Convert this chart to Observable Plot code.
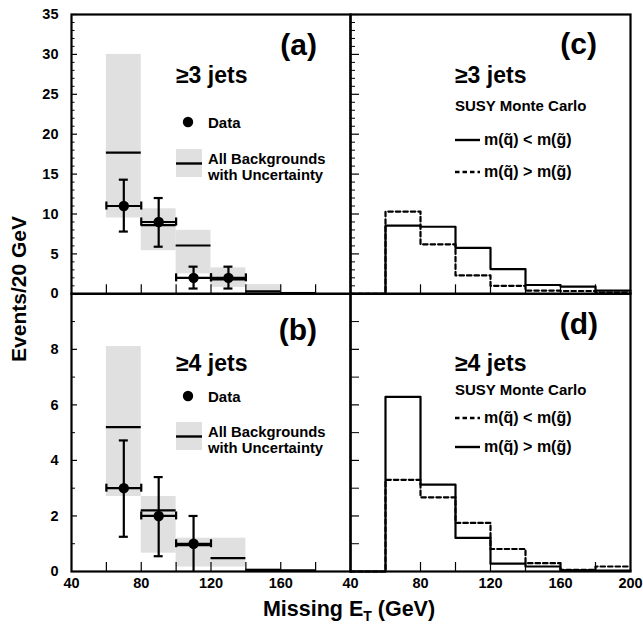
<!DOCTYPE html>
<html><head><meta charset="utf-8">
<script src="https://cdn.jsdelivr.net/npm/d3@7"></script>
<script src="https://cdn.jsdelivr.net/npm/@observablehq/plot@0.6"></script>
<style>
body{margin:0;background:#fff;}
#wrap{position:relative;width:643px;height:630px;font-family:"Liberation Sans",Arial,Helvetica,sans-serif;font-weight:bold;background:#fff;}
#wrap svg{position:absolute;overflow:visible;background:transparent;max-width:none;}
</style></head><body><div id="wrap"></div><script>
// ---------- data ----------
const binLow  = [60, 80, 100, 120, 140, 160];
const binHigh = [80, 100, 120, 140, 160, 180];
// panel (a): >=3 jets, all backgrounds with uncertainty
const bgA     = [17.7, 8.6, 6.05, 1.8, 0.3, 0.1];
const bgALow  = [9.5, 5.4, 2.5, 0.8, 0, 0];
const bgAHigh = [30, 10.65, 7.95, 3.25, 1.15, 0.2];
// panel (a): data
const dataAx    = [70, 90, 110, 130];
const dataAxLo  = [60, 80, 100, 120];
const dataAxHi  = [80, 100, 120, 140];
const dataA     = [11, 9, 2, 2];
const dataALow  = [7.8, 5.9, 0.66, 0.66];
const dataAHigh = [14.3, 12, 3.4, 3.4];
// panel (b): >=4 jets
const bgB     = [5.2, 2.2, 0.95, 0.48, 0.06, 0.04];
const bgBLow  = [2.7, 0.66, 0.16, 0.16, 0, 0];
const bgBHigh = [8.1, 2.7, 1.2, 1.2, 0.1, 0.06];
const dataBx    = [70, 90, 110];
const dataBxLo  = [60, 80, 100];
const dataBxHi  = [80, 100, 120];
const dataB     = [3, 2, 1];
const dataBLow  = [1.25, 0.55, 0];
const dataBHigh = [4.72, 3.4, 2.0];
// SUSY Monte Carlo histograms (bin edges 40..200)
const mcEdges = [40, 60, 80, 100, 120, 140, 160, 180, 200];
const mcC_lt = [0, 8.55, 8.4, 5.75, 3.1, 1.1, 0.9, 0.4];    // solid, m(q)<m(g)
const mcC_gt = [0, 10.3, 6.2, 2.3, 1.0, 0.4, 0.35, 0.15];   // dashed, m(q)>m(g)
const mcD_lt = [0, 3.3, 2.67, 1.75, 0.81, 0.3, 0.06, 0.18]; // dashed, m(q)<m(g)
const mcD_gt = [0, 6.29, 3.13, 1.21, 0.28, 0.18, 0.04, 0.03]; // solid, m(q)>m(g)
// ticks and labels
const yLabelsTop = [0, 5, 10, 15, 20, 25, 30, 35];
const yLabelsBottom = [0, 2, 4, 6, 8];
const yMinorTop = d3.range(0, 36).filter(v => v % 5 !== 0);
const yMinorBottom = [1, 3, 5, 7, 9];
const yMajorBottom = [2, 4, 6, 8];
const xTicks = [60, 80, 100, 120, 140, 160, 180];
const xLabelsLeft = [40, 80, 120, 160];
const xLabelsRight = [40, 80, 120, 160, 200];
const panelLetters = ["(a)", "(b)", "(c)", "(d)"];
const jetLabels = ["\u22653 jets", "\u22654 jets"];
const legendData = "Data";
const legendBg = ["All Backgrounds", "with Uncertainty"];
const legendMC = "SUSY Monte Carlo";
const legendLt = "m(q\u0303) < m(g\u0303)";
const legendGt = "m(q\u0303) > m(g\u0303)";
const xTitle = ["Missing E", "T", " (GeV)"];
const yTitle = "Events/20 GeV";

// ---------- helpers ----------
const FONT = '"Liberation Sans", Arial, Helvetica, sans-serif';
const GREY = "#e0e0e0";
const wrap = document.getElementById("wrap");

function bgMarks(v, lo, hi) {
  const bins = binLow.map((b, i) => ({x1: b, x2: binHigh[i], v: v[i], lo: lo[i], hi: hi[i]}));
  return [
    Plot.rect(bins, {x1: "x1", x2: "x2", y1: "lo", y2: "hi", fill: GREY}),
    Plot.ruleY(bins, {y: "v", x1: "x1", x2: "x2", stroke: "black", strokeWidth: 2.2})
  ];
}
function dataMarks(xs, xlo, xhi, ys, lows, highs) {
  const pts = xs.map((x, i) => ({x, xlo: xlo[i], xhi: xhi[i], y: ys[i], lo: lows[i], hi: highs[i]}));
  const sw = 2.2;
  return [
    Plot.ruleX(pts, {x: "x", y1: "lo", y2: "hi", strokeWidth: sw}),
    Plot.ruleY(pts.filter(d => d.lo > 0), {y: "lo", x1: "x", x2: "x", insetLeft: -4.5, insetRight: -4.5, strokeWidth: sw}),
    Plot.ruleY(pts, {y: "hi", x1: "x", x2: "x", insetLeft: -4.5, insetRight: -4.5, strokeWidth: sw}),
    Plot.ruleY(pts, {y: "y", x1: "xlo", x2: "xhi", strokeWidth: sw}),
    Plot.ruleX(pts, {x: "xlo", y1: "y", y2: "y", insetTop: -4, insetBottom: -4, strokeWidth: sw}),
    Plot.ruleX(pts, {x: "xhi", y1: "y", y2: "y", insetTop: -4, insetBottom: -4, strokeWidth: sw}),
    Plot.dot(pts, {x: "x", y: "y", r: 5.2, fill: "black", stroke: "none"})
  ];
}
function mcMarks(values, dashed) {
  const pts = mcEdges.map((e, i) => ({x: e, y: values[Math.min(i, values.length - 1)]}));
  return Plot.line(pts, {x: "x", y: "y", curve: "step-after", stroke: "black",
    strokeWidth: 2.2, strokeDasharray: dashed ? "4.5,3" : null});
}

function panel(o) {
  const fw = o.width - o.mL - o.mR, fh = o.height - o.mT - o.mB;
  const marks = [
    ...o.marks,
    Plot.ruleY(o.yMajor, {y: d => d, insetRight: fw - o.majorLen, strokeWidth: 1.2}),
    Plot.ruleY(o.yMinor, {y: d => d, insetRight: fw - o.minorLen, strokeWidth: 1}),
    Plot.ruleX(xTicks, {x: d => d, insetTop: fh - o.xTickLen, strokeWidth: 1.2}),
    Plot.frame({stroke: "black", strokeWidth: 2.2})
  ];
  if (o.yLabels) marks.push(Plot.text(o.yLabels, {y: d => d, text: d => String(d), frameAnchor: "left", dx: -13, textAnchor: "end", fontSize: 14.5, fontWeight: "bold"}));
  if (o.xLabels) marks.push(Plot.text(o.xLabels, {x: d => d, text: d => String(d), frameAnchor: "bottom", dy: 6, lineAnchor: "top", fontSize: 14.5, fontWeight: "bold"}));
  const svg = Plot.plot({
    width: o.width, height: o.height,
    marginLeft: o.mL, marginRight: o.mR, marginTop: o.mT, marginBottom: o.mB,
    x: {domain: [40, 200], axis: null},
    y: {domain: o.yDomain, axis: null},
    style: {fontFamily: FONT, fontWeight: "bold", fontSize: "14px", background: "transparent", color: "black", overflow: "visible"},
    marks
  });
  svg.style.left = o.left + "px";
  svg.style.top = o.top + "px";
  wrap.appendChild(svg);
}

// (a)
panel({left: 0, top: 0, width: 356, height: 300, mL: 71, mR: 6, mT: 14, mB: 6.7,
  yDomain: [0, 35], yMajor: yLabelsTop, yMinor: yMinorTop, majorLen: 6, minorLen: 3.5, xTickLen: 9,
  yLabels: yLabelsTop,
  marks: [...bgMarks(bgA, bgALow, bgAHigh), ...dataMarks(dataAx, dataAxLo, dataAxHi, dataA, dataALow, dataAHigh)]});
// (c)
panel({left: 344, top: 0, width: 292, height: 300, mL: 6, mR: 6, mT: 14, mB: 6.7,
  yDomain: [0, 35], yMajor: yLabelsTop, yMinor: yMinorTop, majorLen: 9, minorLen: 5, xTickLen: 9,
  marks: [mcMarks(mcC_lt, false), mcMarks(mcC_gt, true)]});
// (b)
panel({left: 0, top: 287, width: 356, height: 343, mL: 71, mR: 6, mT: 6.3, mB: 59,
  yDomain: [0, 10], yMajor: yMajorBottom, yMinor: yMinorBottom, majorLen: 6, minorLen: 4, xTickLen: 9,
  yLabels: yLabelsBottom, xLabels: xLabelsLeft,
  marks: [...bgMarks(bgB, bgBLow, bgBHigh), ...dataMarks(dataBx, dataBxLo, dataBxHi, dataB, dataBLow, dataBHigh)]});
// (d)
panel({left: 344, top: 287, width: 292, height: 343, mL: 6, mR: 6, mT: 6.3, mB: 59,
  yDomain: [0, 10], yMajor: yMajorBottom, yMinor: yMinorBottom, majorLen: 9, minorLen: 9, xTickLen: 9,
  xLabels: xLabelsRight,
  marks: [mcMarks(mcD_lt, true), mcMarks(mcD_gt, false)]});

// ---------- annotations overlay ----------
const ov = d3.select(wrap).append("svg").attr("width", 643).attr("height", 630)
  .style("left", "0px").style("top", "0px").style("pointer-events", "none")
  .attr("font-family", FONT).attr("font-weight", "bold");
function txt(x, y, s, size, anchor) {
  return ov.append("text").attr("x", x).attr("y", y).attr("font-size", size)
    .attr("text-anchor", anchor || "start").text(s);
}
// panel letters
txt(317, 55, panelLetters[0], 30, "end");
txt(317, 340, panelLetters[1], 30, "end");
txt(597, 54, panelLetters[2], 30, "end");
txt(598, 334, panelLetters[3], 30, "end");
// jets
txt(176, 83, jetLabels[0], 23);
txt(176, 371, jetLabels[1], 23);
txt(455, 83, jetLabels[0], 23);
txt(455, 371, jetLabels[1], 23);
// data legends (a),(b)
[[122, 128, 149, 163.5, 180], [396, 402, 422, 436.5, 453]].forEach(([cy, ty, by, t1, t2]) => {
  ov.append("circle").attr("cx", 188).attr("cy", cy).attr("r", 5.2).attr("fill", "black");
  txt(208, ty, legendData, 15);
  ov.append("rect").attr("x", 176).attr("y", by).attr("width", 26).attr("height", 28).attr("fill", GREY);
  ov.append("line").attr("x1", 176).attr("x2", 202).attr("y1", by + 14.5).attr("y2", by + 14.5)
    .attr("stroke", "black").attr("stroke-width", 2.4);
  txt(208, t1, legendBg[0], 14.8);
  txt(208, t2, legendBg[1], 14.8);
});
// MC legends
function mcLegend(ySusy, y1, dash1, y2, dash2, lab1, lab2) {
  txt(455, ySusy, legendMC, 15);
  [[y1, dash1, lab1], [y2, dash2, lab2]].forEach(([y, dash, lab]) => {
    ov.append("line").attr("x1", 455).attr("x2", 480).attr("y1", y).attr("y2", y)
      .attr("stroke", "black").attr("stroke-width", 2.4).attr("stroke-dasharray", dash ? "4.5,3" : null);
    txt(484, y + 5, lab, 16);
  });
}
mcLegend(111, 140, false, 172, true, legendLt, legendGt);
mcLegend(395, 418, true, 447, false, legendLt, legendGt);
// axis titles
const xt = ov.append("text").attr("x", 349).attr("y", 616).attr("font-size", 21.5).attr("text-anchor", "middle");
xt.append("tspan").text(xTitle[0]);
xt.append("tspan").attr("font-size", 14).attr("dy", 5).text(xTitle[1]);
xt.append("tspan").attr("dy", -5).text(xTitle[2]);
ov.append("text").attr("transform", "translate(26,289) rotate(-90)").attr("font-size", 21)
  .attr("text-anchor", "middle").text(yTitle);
</script></body></html>
